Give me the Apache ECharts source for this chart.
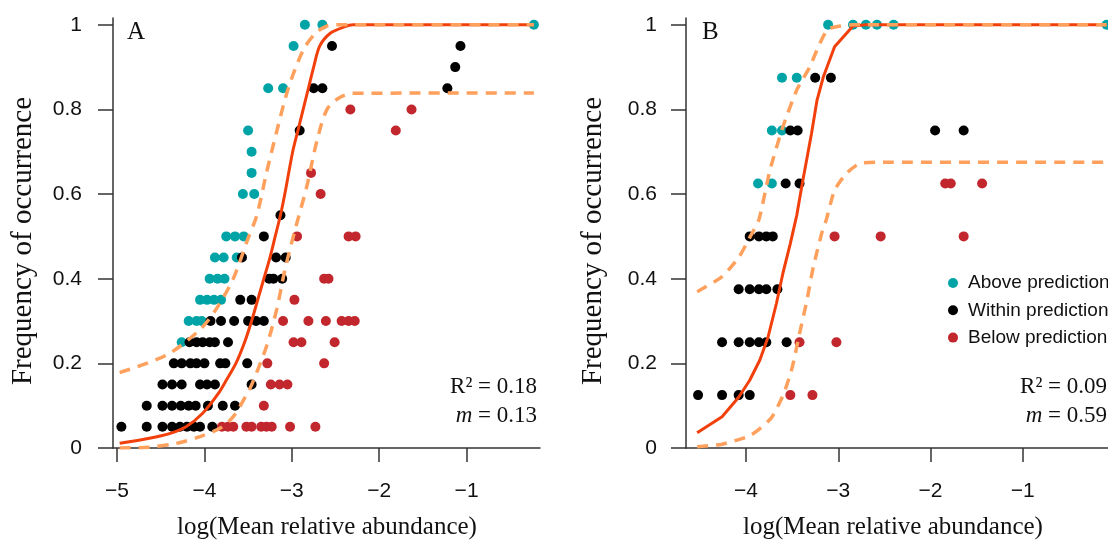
<!DOCTYPE html>
<html>
<head>
<meta charset="utf-8">
<script src="https://cdn.jsdelivr.net/npm/echarts@6/dist/echarts.min.js"></script>
<style>
  html, body { margin: 0; padding: 0; background: #fff; }
  #main { width: 1108px; height: 541px; }
</style>
</head>
<body>
<div id="main"></div>
<script>
// tick labels
const xTicksA = [-5, -4, -3, -2, -1]
const xTicksB = [-4, -3, -2, -1]
const yTicks = [0, 0.2, 0.4, 0.6, 0.8, 1]
const groups = ['Above prediction', 'Within prediction', 'Below prediction']

// panel A points [log abundance, frequency]
const aAbove = [
  [-2.85, 1], [-2.65, 1], [-0.23, 1], [-2.98, 0.95], [-3.27, 0.85], [-3.10, 0.85],
  [-3.50, 0.75], [-3.46, 0.7], [-3.46, 0.65], [-3.56, 0.6], [-3.43, 0.6],
  [-3.75, 0.5], [-3.65, 0.5], [-3.55, 0.5], [-3.88, 0.45], [-3.78, 0.45], [-3.63, 0.45],
  [-3.94, 0.4], [-3.85, 0.4], [-3.77, 0.4], [-4.05, 0.35], [-3.97, 0.35], [-3.89, 0.35], [-3.81, 0.35],
  [-4.18, 0.3], [-4.09, 0.3], [-4.03, 0.3], [-4.26, 0.25]
]
const aWithin = [
  [-2.54, 0.95], [-1.07, 0.95], [-1.13, 0.9], [-2.75, 0.85], [-2.65, 0.85], [-1.22, 0.85],
  [-2.91, 0.75], [-3.13, 0.55], [-3.32, 0.5], [-3.57, 0.45], [-3.18, 0.45], [-3.07, 0.45],
  [-3.26, 0.4], [-3.21, 0.4], [-3.11, 0.4], [-3.59, 0.35], [-3.46, 0.35],
  [-3.93, 0.3], [-3.81, 0.3], [-3.66, 0.3], [-3.50, 0.3], [-3.41, 0.3], [-3.32, 0.3],
  [-4.17, 0.25], [-4.09, 0.25], [-4.02, 0.25], [-3.94, 0.25], [-3.88, 0.25], [-3.73, 0.25],
  [-4.35, 0.2], [-4.26, 0.2], [-4.16, 0.2], [-4.09, 0.2], [-4.00, 0.2], [-3.82, 0.2], [-3.76, 0.2], [-3.51, 0.2],
  [-4.48, 0.15], [-4.37, 0.15], [-4.26, 0.15], [-4.05, 0.15], [-3.97, 0.15], [-3.88, 0.15], [-3.46, 0.15],
  [-4.66, 0.1], [-4.48, 0.1], [-4.37, 0.1], [-4.27, 0.1], [-4.18, 0.1], [-4.10, 0.1], [-3.96, 0.1], [-3.79, 0.1], [-3.65, 0.1],
  [-4.95, 0.05], [-4.66, 0.05], [-4.48, 0.05], [-4.37, 0.05], [-4.28, 0.05], [-4.20, 0.05], [-4.12, 0.05], [-4.05, 0.05], [-3.91, 0.05]
]
const aBelow = [
  [-2.33, 0.8], [-1.63, 0.8], [-1.81, 0.75], [-2.78, 0.65], [-2.67, 0.6],
  [-2.94, 0.5], [-2.35, 0.5], [-2.27, 0.5], [-2.63, 0.4], [-2.58, 0.4], [-2.97, 0.35],
  [-3.10, 0.3], [-2.81, 0.3], [-2.61, 0.3], [-2.43, 0.3], [-2.35, 0.3], [-2.28, 0.3],
  [-2.98, 0.25], [-2.89, 0.25], [-2.51, 0.25], [-3.28, 0.2], [-2.63, 0.2],
  [-3.24, 0.15], [-3.14, 0.15], [-3.05, 0.15], [-3.32, 0.1],
  [-3.80, 0.05], [-3.73, 0.05], [-3.67, 0.05], [-3.52, 0.05], [-3.46, 0.05],
  [-3.35, 0.05], [-3.29, 0.05], [-3.23, 0.05], [-3.02, 0.05], [-2.73, 0.05]
]
// panel A neutral model fit and 95% interval
const aFit = [
  [-4.97, 0.011], [-4.63, 0.023], [-4.40, 0.034], [-4.21, 0.05], [-4.02, 0.082], [-3.84, 0.129],
  [-3.75, 0.16], [-3.64, 0.2], [-3.54, 0.25], [-3.46, 0.3], [-3.39, 0.35], [-3.32, 0.4],
  [-3.25, 0.45], [-3.19, 0.5], [-3.13, 0.55], [-3.08, 0.6], [-2.99, 0.7], [-2.93, 0.75],
  [-2.81, 0.85], [-2.75, 0.9], [-2.68, 0.95], [-2.56, 0.98], [-2.40, 0.995], [-2.30, 1], [-0.23, 1]
]
const aUpper = [
  [-4.97, 0.178], [-4.43, 0.22], [-4.05, 0.28], [-3.86, 0.33], [-3.67, 0.40], [-3.51, 0.49],
  [-3.40, 0.55], [-3.29, 0.65], [-3.17, 0.75], [-3.04, 0.85], [-2.87, 0.94], [-2.73, 0.98],
  [-2.60, 0.997], [-2.50, 1], [-0.23, 1]
]
const aLower = [
  [-4.97, 0], [-4.63, 0.002], [-4.32, 0.011], [-4.05, 0.027], [-3.82, 0.047], [-3.67, 0.074],
  [-3.52, 0.125], [-3.46, 0.149], [-3.29, 0.24], [-3.17, 0.33], [-3.08, 0.42], [-2.97, 0.51],
  [-2.83, 0.617], [-2.71, 0.728], [-2.60, 0.799], [-2.47, 0.826], [-2.30, 0.838], [-0.23, 0.839]
]

// panel B points
const bAbove = [
  [-3.11, 1], [-2.84, 1], [-2.70, 1], [-2.58, 1], [-2.40, 1], [-0.09, 1],
  [-3.61, 0.875], [-3.45, 0.875], [-3.72, 0.75], [-3.61, 0.75], [-3.87, 0.625], [-3.72, 0.625]
]
const bWithin = [
  [-3.25, 0.875], [-3.08, 0.875], [-3.52, 0.75], [-3.44, 0.75], [-1.95, 0.75], [-1.64, 0.75],
  [-3.57, 0.625], [-3.42, 0.625], [-3.96, 0.5], [-3.86, 0.5], [-3.78, 0.5], [-3.71, 0.5],
  [-4.08, 0.375], [-3.96, 0.375], [-3.86, 0.375], [-3.78, 0.375], [-3.66, 0.375],
  [-4.26, 0.25], [-4.08, 0.25], [-3.96, 0.25], [-3.86, 0.25], [-3.78, 0.25], [-3.56, 0.25],
  [-4.52, 0.125], [-4.26, 0.125], [-4.08, 0.125], [-3.96, 0.125]
]
const bBelow = [
  [-1.84, 0.625], [-1.78, 0.625], [-1.44, 0.625], [-3.04, 0.5], [-2.54, 0.5], [-1.64, 0.5],
  [-3.42, 0.25], [-3.02, 0.25], [-3.52, 0.125], [-3.28, 0.125]
]
const bFit = [
  [-4.53, 0.036], [-4.26, 0.074], [-4.08, 0.12], [-3.96, 0.16], [-3.85, 0.208], [-3.76, 0.263],
  [-3.67, 0.342], [-3.60, 0.413], [-3.52, 0.483], [-3.45, 0.55], [-3.39, 0.625], [-3.29, 0.743],
  [-3.23, 0.822], [-3.16, 0.878], [-3.04, 0.948], [-2.84, 0.997], [-2.70, 1], [-0.09, 1]
]
const bUpper = [
  [-4.53, 0.369], [-4.26, 0.405], [-4.08, 0.45], [-3.96, 0.497], [-3.86, 0.54], [-3.74, 0.657],
  [-3.60, 0.759], [-3.45, 0.846], [-3.31, 0.90], [-3.20, 0.956], [-3.11, 0.99], [-2.98, 0.997],
  [-2.84, 1], [-0.09, 1]
]
const bLower = [
  [-4.53, 0.003], [-4.26, 0.009], [-3.95, 0.03], [-3.73, 0.07], [-3.59, 0.129], [-3.50, 0.19],
  [-3.42, 0.27], [-3.34, 0.349], [-3.27, 0.428], [-3.18, 0.507], [-3.13, 0.539], [-3.04, 0.609],
  [-2.91, 0.649], [-2.76, 0.673], [-2.54, 0.675], [-0.09, 0.675]
]

const teal = '#00a4a6'
const black = '#000000'
const red = '#c1272d'
const fitColor = '#f2400c'
const ciColor = '#ffa05c'
const sans = 'Liberation Sans'
const serif = 'Liberation Serif'

const axisLine = { show: true, lineStyle: { color: '#333', width: 1.5 } }

function xAxis (gridIndex, min, max, ticks) {
  return {
    type: 'value', gridIndex, min, max,
    axisLine,
    splitLine: { show: false },
    axisTick: { show: true, length: 14, customValues: ticks, lineStyle: { color: '#333', width: 1.5 } },
    axisLabel: {
      customValues: ticks, margin: 33, fontFamily: sans, fontSize: 21, color: '#111',
      formatter: v => String(v).replace('-', '\u2212')
    }
  }
}

function yAxis (gridIndex, margin) {
  return {
    type: 'value', gridIndex, min: 0, max: 1.016,
    axisLine,
    splitLine: { show: false },
    axisTick: { show: true, length: 15, customValues: yTicks, lineStyle: { color: '#333', width: 1.5 } },
    axisLabel: { customValues: yTicks, margin, fontFamily: sans, fontSize: 21, color: '#111' }
  }
}

function dots (name, data, color, idx) {
  return {
    name, type: 'scatter', data, xAxisIndex: idx, yAxisIndex: idx,
    symbolSize: 10, clip: false, z: 2,
    itemStyle: { color, opacity: 1 }
  }
}

function curve (data, idx, dashed, smooth) {
  return {
    type: 'line', data, xAxisIndex: idx, yAxisIndex: idx,
    showSymbol: false, smooth, z: dashed ? 4 : 3, silent: true,
    lineStyle: dashed
      ? { color: ciColor, width: 3.5, type: [11, 8] }
      : { color: fitColor, width: 3 }
  }
}

function label (text, x, y, size, align, rotation) {
  return {
    type: 'text', x, y, rotation: rotation || 0,
    style: {
      text, fontFamily: serif, fontSize: size, fill: '#111',
      align: align || 'center', verticalAlign: 'middle',
      rich: { i: { fontFamily: serif, fontSize: size, fontStyle: 'italic', fill: '#111' } }
    }
  }
}

const option = {
  animation: false,
  backgroundColor: '#fff',
  grid: [
    { left: 113, top: 18, width: 427, height: 430 },
    { left: 686, top: 18, width: 422, height: 430 }
  ],
  xAxis: [xAxis(0, -5.046, -0.16, xTicksA), xAxis(1, -4.651, -0.075, xTicksB)],
  yAxis: [yAxis(0, 31), yAxis(1, 29)],
  legend: {
    data: groups, orient: 'vertical', left: 948, top: 273, padding: 0,
    icon: 'circle', itemWidth: 10, itemHeight: 10, itemGap: 7.3,
    textStyle: { fontFamily: sans, fontSize: 19, color: '#111', lineHeight: 20, padding: [0, 0, 0, 5] }
  },
  graphic: [
    label('A', 127, 32, 25, 'left'),
    label('B', 702, 32, 25, 'left'),
    label('Frequency of occurrence', 23.5, 241, 29, 'center', Math.PI / 2),
    label('Frequency of occurrence', 593.5, 241, 29, 'center', Math.PI / 2),
    label('log(Mean relative abundance)', 327, 527, 25),
    label('log(Mean relative abundance)', 893, 527, 25),
    label('R\u00b2 = 0.18', 537, 387, 23, 'right'),
    label('{i|m} = 0.13', 537, 416, 23, 'right'),
    label('R\u00b2 = 0.09', 1107, 387, 23, 'right'),
    label('{i|m} = 0.59', 1107, 416, 23, 'right')
  ],
  series: [
    dots(groups[0], aAbove, teal, 0),
    dots(groups[1], aWithin, black, 0),
    dots(groups[2], aBelow, red, 0),
    curve(aFit, 0, false, 0.3),
    curve(aUpper, 0, true, 0.3),
    curve(aLower, 0, true, 0.3),
    dots(groups[0], bAbove, teal, 1),
    dots(groups[1], bWithin, black, 1),
    dots(groups[2], bBelow, red, 1),
    curve(bFit, 1, false, false),
    curve(bUpper, 1, true, 0.2),
    curve(bLower, 1, true, 0.2)
  ]
}

const chart = echarts.init(document.getElementById('main'))
chart.setOption(option)
</script>
</body>
</html>
